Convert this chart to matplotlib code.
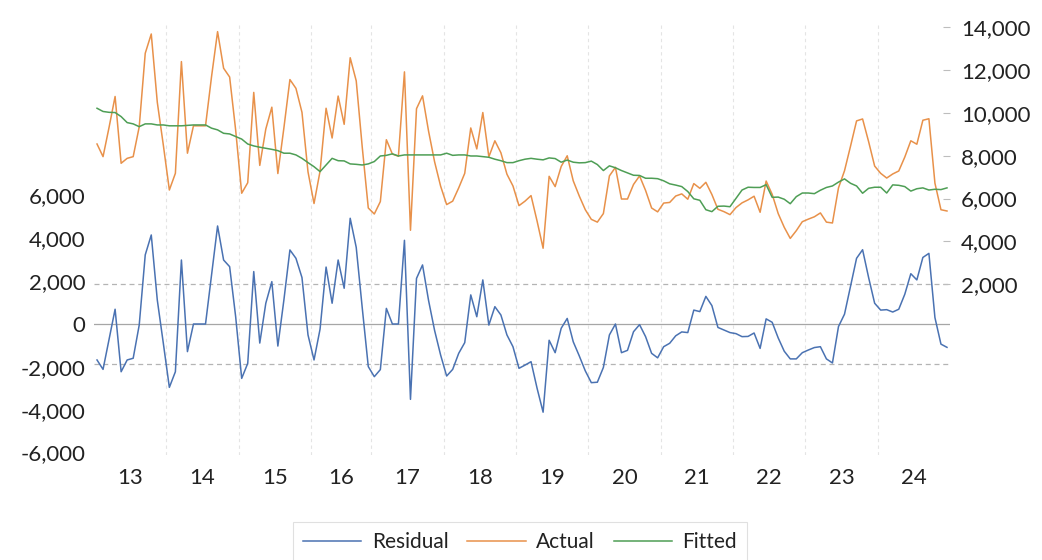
import numpy as np
import matplotlib.pyplot as plt
from matplotlib.lines import Line2D

plt.rcParams['font.family'] = ['Lato', 'DejaVu Sans']

# sample years (two-digit labels) and number of observations in each
years = ['13', '14', '15', '16', '17', '18', '19', '20', '21', '22', '23', '24']
obs_per_year = [12, 12, 12, 10, 12, 12, 12, 12, 12, 12, 12, 12]

residual = [
    -1680, -2120, -720, 690, -2230, -1680, -1600, -50, 3230, 4160, 1120, -900,
    -2960, -2230, 2990, -1290, 0, 0, 0, 2300, 4580, 2990, 2680, 340,
    -2540, -1840, 2450, -890, 970, 1980, -1030, 1120, 3460, 3070, 2170, -510,
    -1680, -240, 2660, 970, 2990, 1670, 4940, 3580, 750, -1990,
    -2460, -2130, 730, 0, 0, 3910, -3520, 2130, 2760, 1100, -300, -1450,
    -2430, -2120, -1370, -870, 1360, 340, 2060, -50, 810, 420, -510, -1060,
    -2070, -1920, -1760, -3000, -4120, -760, -1340, -200, 260, -830, -1490, -2190,
    -2740, -2720, -2030, -510, 0, -1340, -1230, -360, -30, -590, -1370, -1580,
    -1060, -900, -550, -370, -400, 650, 580, 1290, 860, -160, -280, -400,
    -450, -590, -580, -420, -1140, 240, 80, -650, -1270, -1630, -1630, -1340,
    -1215, -1100, -1060, -1630, -1820, -120, 460, 1760, 3070, 3470, 2170, 970,
    650, 670, 560, 690, 1390, 2350, 2060, 3110, 3300, 300, -940, -1090,
]

actual = [
    8550, 7960, 9330, 10770, 7650, 7880, 7960, 9350, 12790, 13690, 10500, 8500,
    6400, 7180, 12400, 8120, 9400, 9400, 9400, 11700, 13800, 12090, 11680, 9200,
    6250, 6740, 10960, 7550, 9250, 10270, 7170, 9300, 11560, 11150, 10030, 7250,
    5770, 7280, 10220, 8830, 10790, 9470, 12580, 11500, 8400, 5560,
    5280, 5860, 8750, 8080, 7980, 11920, 4520, 10200, 10800, 9150, 7720, 6580,
    5720, 5880, 6500, 7180, 9300, 8320, 10020, 7950, 8700, 8140, 7140, 6590,
    5670, 5880, 6140, 4950, 3680, 7040, 6560, 7500, 8000, 6830, 6120, 5480,
    5030, 4900, 5300, 7060, 7460, 5980, 5980, 6660, 7060, 6380, 5560, 5380,
    5790, 5820, 6120, 6220, 5970, 6700, 6480, 6760, 6190, 5500, 5390, 5250,
    5580, 5800, 5940, 6110, 5360, 6820, 6200, 5300, 4660, 4140, 4500, 4920,
    5040, 5150, 5330, 4900, 4860, 6500, 7300, 8450, 9630, 9720, 8660, 7520,
    7180, 6960, 7150, 7290, 7940, 8700, 8540, 9660, 9730, 6720, 5480, 5420,
]

fitted = [
    10220, 10070, 10030, 10020, 9830, 9550, 9490, 9360, 9490, 9490, 9440, 9440,
    9400, 9400, 9400, 9420, 9440, 9440, 9440, 9290, 9210, 9050, 9020, 8900,
    8780, 8550, 8460, 8400, 8350, 8300, 8240, 8120, 8120, 8040, 7880, 7680,
    7490, 7260, 7570, 7880, 7770, 7760, 7620, 7600, 7570, 7620,
    7730, 7990, 8020, 8090, 7990, 8040, 8040, 8040, 8040, 8040, 8040, 8040,
    8120, 8020, 8040, 8040, 7990, 7990, 7960, 7930, 7840, 7770, 7680, 7680,
    7770, 7840, 7880, 7840, 7810, 7900, 7870, 7700, 7800, 7700, 7670, 7680,
    7750, 7590, 7310, 7530, 7440, 7310, 7200, 7090, 7080, 6950, 6950, 6930,
    6830, 6690, 6630, 6560, 6330, 5990, 5920, 5480, 5390, 5640, 5650, 5620,
    6010, 6400, 6530, 6520, 6520, 6650, 6060, 6070, 5970, 5760, 6090, 6260,
    6260, 6230, 6390, 6520, 6590, 6770, 6920, 6715, 6590, 6250, 6480, 6530,
    6530, 6260, 6640, 6620, 6560, 6350, 6460, 6500, 6400, 6435, 6420, 6500,
]

se = 1850  # standard error of the regression, drawn as a dashed band

blue = '#4A72B2'
orange = '#E8914A'
green = '#4E9E55'
text_col = '#222222'

n = len(actual)
x = np.arange(n)
edges = np.cumsum(obs_per_year)
centers = edges - np.array(obs_per_year) / 2 - 0.5

fig = plt.figure(figsize=(10.42, 5.6), dpi=100)
ax = fig.add_axes([94 / 1042, 105 / 560, 856 / 1042, 430 / 560])
ax2 = ax.twinx()

# year separators
for b in edges[:-1]:
    ax.axvline(b - 0.5, color='#E4E4E4', lw=0.8, ls=(0, (3, 3)), zorder=0)

ax.axhline(0, color='#A6A6A6', lw=0.9, zorder=1)
ax.axhline(se, color='#B4B4B4', lw=0.9, ls=(0, (4, 3)), zorder=1)
ax.axhline(-se, color='#B4B4B4', lw=0.9, ls=(0, (4, 3)), zorder=1)

ax.plot(x, residual, color=blue, lw=1.1, zorder=3)
ax2.plot(x, actual, color=orange, lw=1.1, zorder=3)
ax2.plot(x, fitted, color=green, lw=1.1, zorder=4)

ax.set_xlim(-0.5, n - 0.5)
ax.set_ylim(-6120, 13970)
ax2.set_ylim(-5980, 14110)

left_ticks = np.arange(-6000, 6001, 2000)
ax.set_yticks(left_ticks)
ax.set_yticklabels([f'{v:,}' for v in left_ticks])
right_ticks = np.arange(2000, 14001, 2000)
ax2.set_yticks(right_ticks)
ax2.set_yticklabels([f'{v:,}' for v in right_ticks])

ax.set_xticks(centers)
ax.set_xticklabels(years)

ax.tick_params(axis='y', length=0, pad=6, labelsize=16, labelcolor=text_col)
ax.tick_params(axis='x', length=0, pad=9, labelsize=16, labelcolor=text_col)
ax2.tick_params(axis='y', direction='in', length=5, width=0.8, color='#BDBDBD',
                pad=8, labelsize=16, labelcolor=text_col)

for a in (ax, ax2):
    for s in a.spines.values():
        s.set_visible(False)

handles = [Line2D([], [], color=blue, lw=1.1),
           Line2D([], [], color=orange, lw=1.1),
           Line2D([], [], color=green, lw=1.1)]
leg = fig.legend(handles, ['Residual', 'Actual', 'Fitted'], loc='upper center',
                 bbox_to_anchor=(520 / 1042, 1 - 522 / 560), ncol=3,
                 fontsize=15, frameon=True, fancybox=False, edgecolor='#D9D9D9',
                 handlelength=2.8, handletextpad=0.5, columnspacing=0.9,
                 borderpad=0.5, borderaxespad=0)
leg.get_frame().set_linewidth(0.8)
for t in leg.get_texts():
    t.set_color(text_col)

fig.savefig('out.png', dpi=100)
